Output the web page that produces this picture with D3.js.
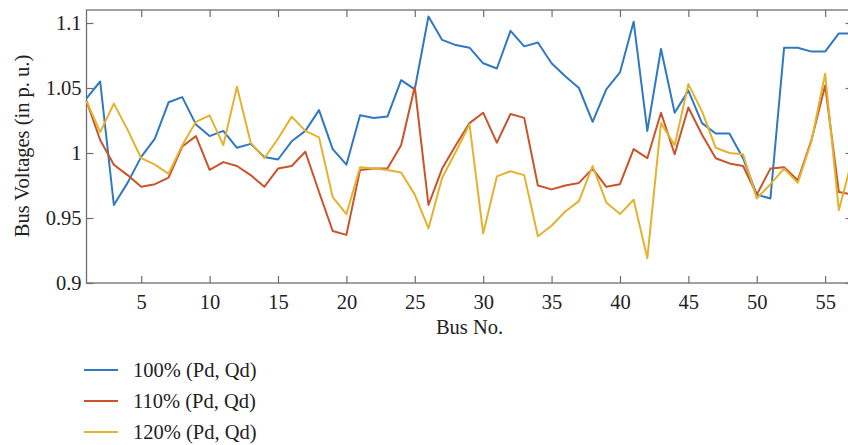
<!DOCTYPE html>
<html>
<head>
<meta charset="utf-8">
<script src="https://cdn.jsdelivr.net/npm/d3@7"></script>
<style>
  html, body { margin: 0; padding: 0; background: #fff; }
  svg { display: block; }
  text { font-family: "Liberation Serif", "DejaVu Serif", serif; fill: #222; }
</style>
</head>
<body>
<svg id="chart" width="848" height="445"></svg>
<script>
// Bus numbers 1..57
const buses = d3.range(1, 58);

// Bus voltage magnitudes (p.u.) under three loading levels
const v100 = [1.042, 1.055, 0.960, 0.977, 0.997, 1.011, 1.039, 1.043, 1.022, 1.013,
              1.017, 1.004, 1.007, 0.997, 0.995, 1.009, 1.017, 1.033, 1.003, 0.991,
              1.029, 1.027, 1.028, 1.056, 1.049, 1.105, 1.087, 1.083, 1.081, 1.069,
              1.065, 1.094, 1.082, 1.085, 1.069, 1.059, 1.050, 1.024, 1.049, 1.062,
              1.101, 1.017, 1.080, 1.031, 1.048, 1.023, 1.015, 1.015, 0.996, 0.968,
              0.965, 1.081, 1.081, 1.078, 1.078, 1.092, 1.092];
const v110 = [1.040, 1.010, 0.991, 0.983, 0.974, 0.976, 0.981, 1.005, 1.013, 0.987,
              0.993, 0.990, 0.983, 0.974, 0.988, 0.990, 1.001, 0.970, 0.940, 0.937,
              0.987, 0.988, 0.988, 1.006, 1.051, 0.960, 0.988, 1.006, 1.023, 1.031,
              1.008, 1.030, 1.027, 0.975, 0.972, 0.975, 0.977, 0.988, 0.974, 0.976,
              1.003, 0.996, 1.031, 0.999, 1.035, 1.014, 0.996, 0.992, 0.990, 0.968,
              0.988, 0.989, 0.979, 1.010, 1.052, 0.970, 0.968];
const v120 = [1.040, 1.016, 1.038, 1.018, 0.996, 0.991, 0.984, 1.006, 1.024, 1.029,
              1.006, 1.051, 1.008, 0.996, 1.011, 1.028, 1.017, 1.012, 0.966, 0.953,
              0.989, 0.988, 0.987, 0.985, 0.968, 0.942, 0.981, 1.001, 1.022, 0.938,
              0.982, 0.986, 0.983, 0.936, 0.944, 0.955, 0.963, 0.990, 0.962, 0.953,
              0.964, 0.919, 1.023, 1.006, 1.053, 1.032, 1.004, 1.000, 0.999, 0.965,
              0.976, 0.988, 0.977, 1.009, 1.061, 0.956, 0.996];

const seriesNames = ["100% (Pd, Qd)", "110% (Pd, Qd)", "120% (Pd, Qd)"];
const seriesColors = ["#3078c2", "#c9542a", "#e3b22f"];
const seriesValues = [v100, v110, v120];

const xTicks = [5, 10, 15, 20, 25, 30, 35, 40, 45, 50, 55];
const yTicks = [0.9, 0.95, 1, 1.05, 1.1];
const yTickLabels = ["0.9", "0.95", "1", "1.05", "1.1"];

const svg = d3.select("#chart");
const plotLeft = 86.5, plotRight = 852.5, plotTop = 10, plotBottom = 283;
const fontSize = 20.5;

const x = d3.scaleLinear().domain([1, 57]).range([plotLeft, plotRight]);
const y = d3.scaleLinear().domain([0.9, 1.11]).range([plotBottom, plotTop]);

const axisColor = "#6e6e6e";
const tickLen = 7;

// Frame
svg.append("rect")
  .attr("x", plotLeft).attr("y", plotTop)
  .attr("width", plotRight - plotLeft).attr("height", plotBottom - plotTop)
  .attr("fill", "none").attr("stroke", axisColor).attr("stroke-width", 1.3);

// Bottom axis (inward ticks)
const gx = svg.append("g").attr("transform", `translate(0,${plotBottom})`)
  .call(d3.axisBottom(x).tickValues(xTicks).tickSize(-tickLen).tickPadding(11).tickFormat(d3.format("d")));
// Top mirrored ticks
const gxt = svg.append("g").attr("transform", `translate(0,${plotTop})`)
  .call(d3.axisTop(x).tickValues(xTicks).tickSize(-tickLen).tickFormat(""));
// Left axis
const gy = svg.append("g").attr("transform", `translate(${plotLeft},0)`)
  .call(d3.axisLeft(y).tickValues(yTicks).tickSize(-tickLen).tickPadding(5)
    .tickFormat((d, i) => yTickLabels[i]));
// Right mirrored ticks
const gyr = svg.append("g").attr("transform", `translate(${plotRight},0)`)
  .call(d3.axisRight(y).tickValues(yTicks).tickSize(-tickLen).tickFormat(""));

[gx, gxt, gy, gyr].forEach(g => {
  g.select(".domain").remove();
  g.selectAll(".tick line").attr("stroke", axisColor).attr("stroke-width", 1.2);
  g.selectAll(".tick text").attr("font-size", fontSize).attr("fill", "#222");
});

// Series lines
const line = d3.line().x((d, i) => x(buses[i])).y(d => y(d));
seriesValues.forEach((vals, k) => {
  svg.append("path")
    .datum(vals)
    .attr("d", line)
    .attr("fill", "none")
    .attr("stroke", seriesColors[k])
    .attr("stroke-width", 2)
    .attr("stroke-linejoin", "round");
});

// Axis titles
svg.append("text")
  .attr("x", 469.5).attr("y", 334)
  .attr("text-anchor", "middle").attr("font-size", fontSize)
  .text("Bus No.");
svg.append("text")
  .attr("transform", "translate(29,146) rotate(-90)")
  .attr("text-anchor", "middle").attr("font-size", fontSize)
  .text("Bus Voltages (in p. u.)");

// Legend
const legend = svg.append("g");
seriesNames.forEach((name, k) => {
  const ly = 370 + k * 31;
  legend.append("line")
    .attr("x1", 84).attr("x2", 118).attr("y1", ly).attr("y2", ly)
    .attr("stroke", seriesColors[k]).attr("stroke-width", 2);
  legend.append("text")
    .attr("x", 133).attr("y", ly + 6.5)
    .attr("font-size", fontSize)
    .text(name);
});
</script>
</body>
</html>
